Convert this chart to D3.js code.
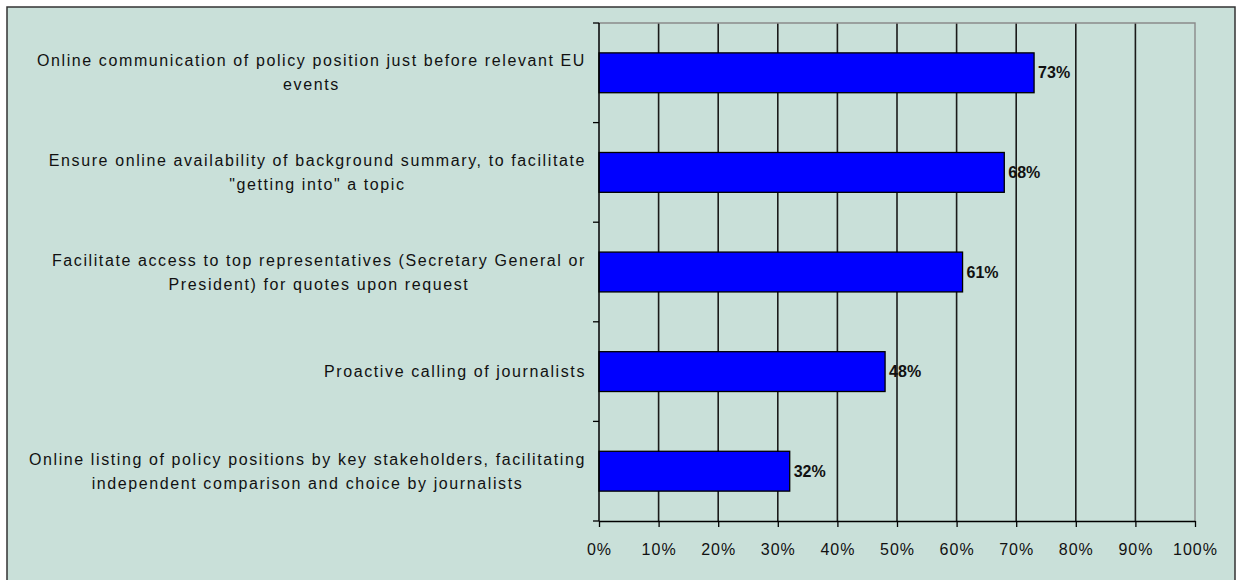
<!DOCTYPE html>
<html>
<head>
<meta charset="utf-8">
<script src="https://cdn.jsdelivr.net/npm/d3@7"></script>
<style>
  body { margin: 0; background: #ffffff; }
  text { font-family: Arial, "Liberation Sans", sans-serif; }
</style>
</head>
<body>
<svg id="chart" width="1236" height="580"></svg>
<script>
// Survey items, top to bottom
const categories = [
  "Online communication of policy position just before relevant EU events",
  "Ensure online availability of background summary, to facilitate \"getting into\" a topic",
  "Facilitate access to top representatives (Secretary General or President) for quotes upon request",
  "Proactive calling of journalists",
  "Online listing of policy positions by key stakeholders, facilitating independent comparison and choice by journalists"
];
// Share of respondents (%)
const values = [73, 68, 61, 48, 32];
// Horizontal axis ticks (%)
const xTicks = [0, 10, 20, 30, 40, 50, 60, 70, 80, 90, 100];

const svg = d3.select("#chart");

// Chart area background and frame
svg.append("rect")
  .attr("x", 7).attr("y", 7)
  .attr("width", 1228).attr("height", 600)
  .attr("fill", "#C9E0D9")
  .attr("stroke", "#333333")
  .attr("stroke-width", 1.5);

const plot = { left: 599, right: 1195, top: 23, bottom: 521 };

const x = d3.scaleLinear().domain([0, 100]).range([plot.left, plot.right]);
const y = d3.scaleBand()
  .domain(categories)
  .range([plot.top, plot.bottom])
  .paddingInner(0.6)
  .paddingOuter(0.3);

// Vertical gridlines
svg.append("g")
  .selectAll("line")
  .data(xTicks.filter(d => d > 0 && d < 100))
  .join("line")
  .attr("x1", d => x(d)).attr("x2", d => x(d))
  .attr("y1", plot.top).attr("y2", plot.bottom)
  .attr("stroke", "#1a1a1a")
  .attr("stroke-width", 1.6);

// Plot area border (top and right edges)
svg.append("path")
  .attr("d", `M${plot.left},${plot.top}H${plot.right}V${plot.bottom}`)
  .attr("fill", "none")
  .attr("stroke", "#8a8a8a")
  .attr("stroke-width", 1.4);

// Bars
svg.append("g")
  .selectAll("rect")
  .data(values)
  .join("rect")
  .attr("x", x(0))
  .attr("y", (d, i) => y(categories[i]))
  .attr("width", d => x(d) - x(0))
  .attr("height", y.bandwidth())
  .attr("fill", "#0000FF")
  .attr("stroke", "#000000")
  .attr("stroke-width", 1.3);

// Value labels
svg.append("g")
  .selectAll("text")
  .data(values)
  .join("text")
  .attr("x", d => x(d) + 4)
  .attr("y", (d, i) => y(categories[i]) + y.bandwidth() / 2)
  .attr("dy", "0.35em")
  .attr("font-size", 16)
  .attr("font-weight", "bold")
  .attr("fill", "#111111")
  .text(d => d + "%");

// Vertical axis line with category separator ticks
const step = y.step();
svg.append("line")
  .attr("x1", plot.left).attr("x2", plot.left)
  .attr("y1", plot.top).attr("y2", plot.bottom)
  .attr("stroke", "#000").attr("stroke-width", 1.5);
svg.append("g")
  .selectAll("line")
  .data(d3.range(categories.length + 1))
  .join("line")
  .attr("x1", plot.left - 6).attr("x2", plot.left)
  .attr("y1", i => plot.top + i * step)
  .attr("y2", i => plot.top + i * step)
  .attr("stroke", "#000").attr("stroke-width", 1.3);

// Horizontal axis
const xAxis = svg.append("g")
  .attr("transform", `translate(0,${plot.bottom})`)
  .call(d3.axisBottom(x)
    .tickValues(xTicks)
    .tickFormat(d => d + "%")
    .tickSize(6)
    .tickSizeOuter(0)
    .tickPadding(17));
xAxis.select(".domain").attr("stroke", "#000").attr("stroke-width", 1.5);
xAxis.selectAll(".tick line").attr("stroke", "#000").attr("stroke-width", 1.3);
xAxis.selectAll(".tick text")
  .attr("font-size", 16)
  .attr("font-family", "Arial, 'Liberation Sans', sans-serif")
  .attr("letter-spacing", "1px")
  .attr("fill", "#111111");

// Category labels: wrapped, centred lines, block right-aligned to the axis
const labelRight = 586;
const wrapWidth = 580;
const lineHeight = 24;
const labels = svg.append("g")
  .attr("font-size", 16)
  .attr("letter-spacing", "1.6px")
  .attr("fill", "#111111");

categories.forEach((cat, i) => {
  const g = labels.append("g");
  const probe = g.append("text");
  const words = cat.split(" ");
  const lines = [];
  let line = [];
  words.forEach(w => {
    line.push(w);
    probe.text(line.join(" "));
    if (probe.node().getComputedTextLength() > wrapWidth && line.length > 1) {
      line.pop();
      lines.push(line.join(" "));
      line = [w];
    }
  });
  lines.push(line.join(" "));
  probe.remove();

  const texts = g.selectAll("text")
    .data(lines)
    .join("text")
    .attr("text-anchor", "middle")
    .attr("dy", "0.35em")
    .text(d => d);
  const maxW = d3.max(texts.nodes(), n => n.getComputedTextLength());
  const cy = y(cat) + y.bandwidth() / 2;
  texts
    .attr("x", labelRight - maxW / 2)
    .attr("y", (d, j) => cy + (j - (lines.length - 1) / 2) * lineHeight);
});
</script>
</body>
</html>
